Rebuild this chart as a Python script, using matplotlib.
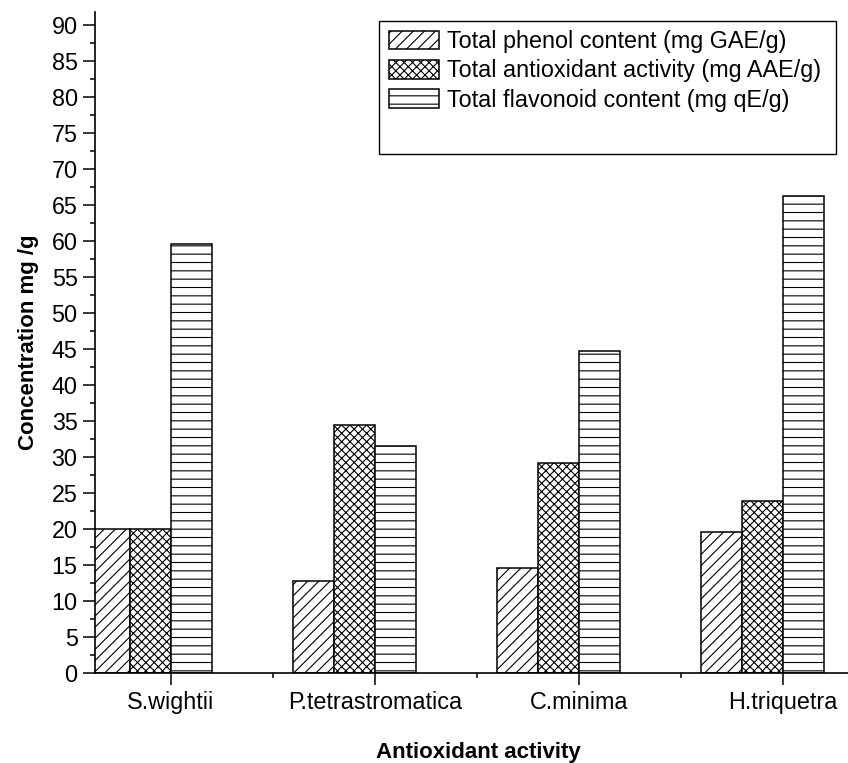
import matplotlib
matplotlib.use("Agg")
import matplotlib.pyplot as plt
from matplotlib.patches import Rectangle
import numpy as np

plt.rcParams['font.family'] = ['Liberation Sans', 'DejaVu Sans']
plt.rcParams['hatch.linewidth'] = 0.8

especies = ['S.wightii', 'P.tetrastromatica', 'C.minima', 'H.triquetra']
fenol = [20.0, 12.8, 14.6, 19.6]
antioxidante = [20.0, 34.5, 29.25, 24.0]
flavonoide = [59.6, 31.6, 44.7, 66.3]

series = ['Total phenol content (mg GAE/g)',
          'Total antioxidant activity (mg AAE/g)',
          'Total flavonoid content (mg qE/g)']
tramas = ['///', 'xxxx', '--']

fig = plt.figure(figsize=(8.48, 7.63), dpi=100)
ax = fig.add_axes([95/848, 1 - 673.3/763, 753/848, (673.3 - 12)/763])

x = np.arange(1, len(especies) + 1)
ancho = 0.2
desplaz = [-0.3, -0.1, 0.1]
barras = []
for datos, trama, d, nombre in zip([fenol, antioxidante, flavonoide], tramas, desplaz, series):
    b = ax.bar(x + d, datos, ancho, color='white', edgecolor='black',
               hatch=trama, linewidth=1.1, label=nombre)
    barras.append(b)

ax.set_xlim(0.6275, 4.319)
ax.set_ylim(0, 91.85)
ax.set_xticks(x)
ax.set_xticklabels(especies)
ax.set_xticks([1.5, 2.5, 3.5], minor=True)
ax.set_yticks(np.arange(0, 91, 5))
ax.set_yticks(np.arange(2.5, 91, 5), minor=True)

ax.tick_params(which='major', direction='out', length=8.5, width=1.1, labelsize=16.8, pad=4)
ax.tick_params(which='minor', direction='out', length=3.8, width=1.1)

for lado in ['top', 'right']:
    ax.spines[lado].set_visible(False)
for lado in ['left', 'bottom']:
    ax.spines[lado].set_linewidth(1.2)

ax.set_xlabel('Antioxidant activity', fontsize=16, fontweight='bold')
ax.set_ylabel('Concentration mg /g', fontsize=16, fontweight='bold')
ax.xaxis.set_label_coords(0.509, -0.104)
ax.yaxis.set_label_coords(-0.074, 0.5)

# caja de la leyenda (mas alta que las entradas, como en el original)
caja = Rectangle((379/848, 1 - 154/763), (836 - 379)/848, (154 - 21)/763,
                 transform=fig.transFigure, facecolor='white',
                 edgecolor='black', linewidth=1.0, zorder=5)
fig.patches.append(caja)

leg = fig.legend(handles=barras, loc='upper left',
                 bbox_to_anchor=(389/848, 1 - 30/763), frameon=False,
                 fontsize=16.8, handlelength=2.15, handleheight=0.85,
                 handletextpad=0.35, labelspacing=0.27, borderpad=0.0,
                 borderaxespad=0.0)
leg.set_zorder(6)

fig.savefig('out.png', dpi=100)
